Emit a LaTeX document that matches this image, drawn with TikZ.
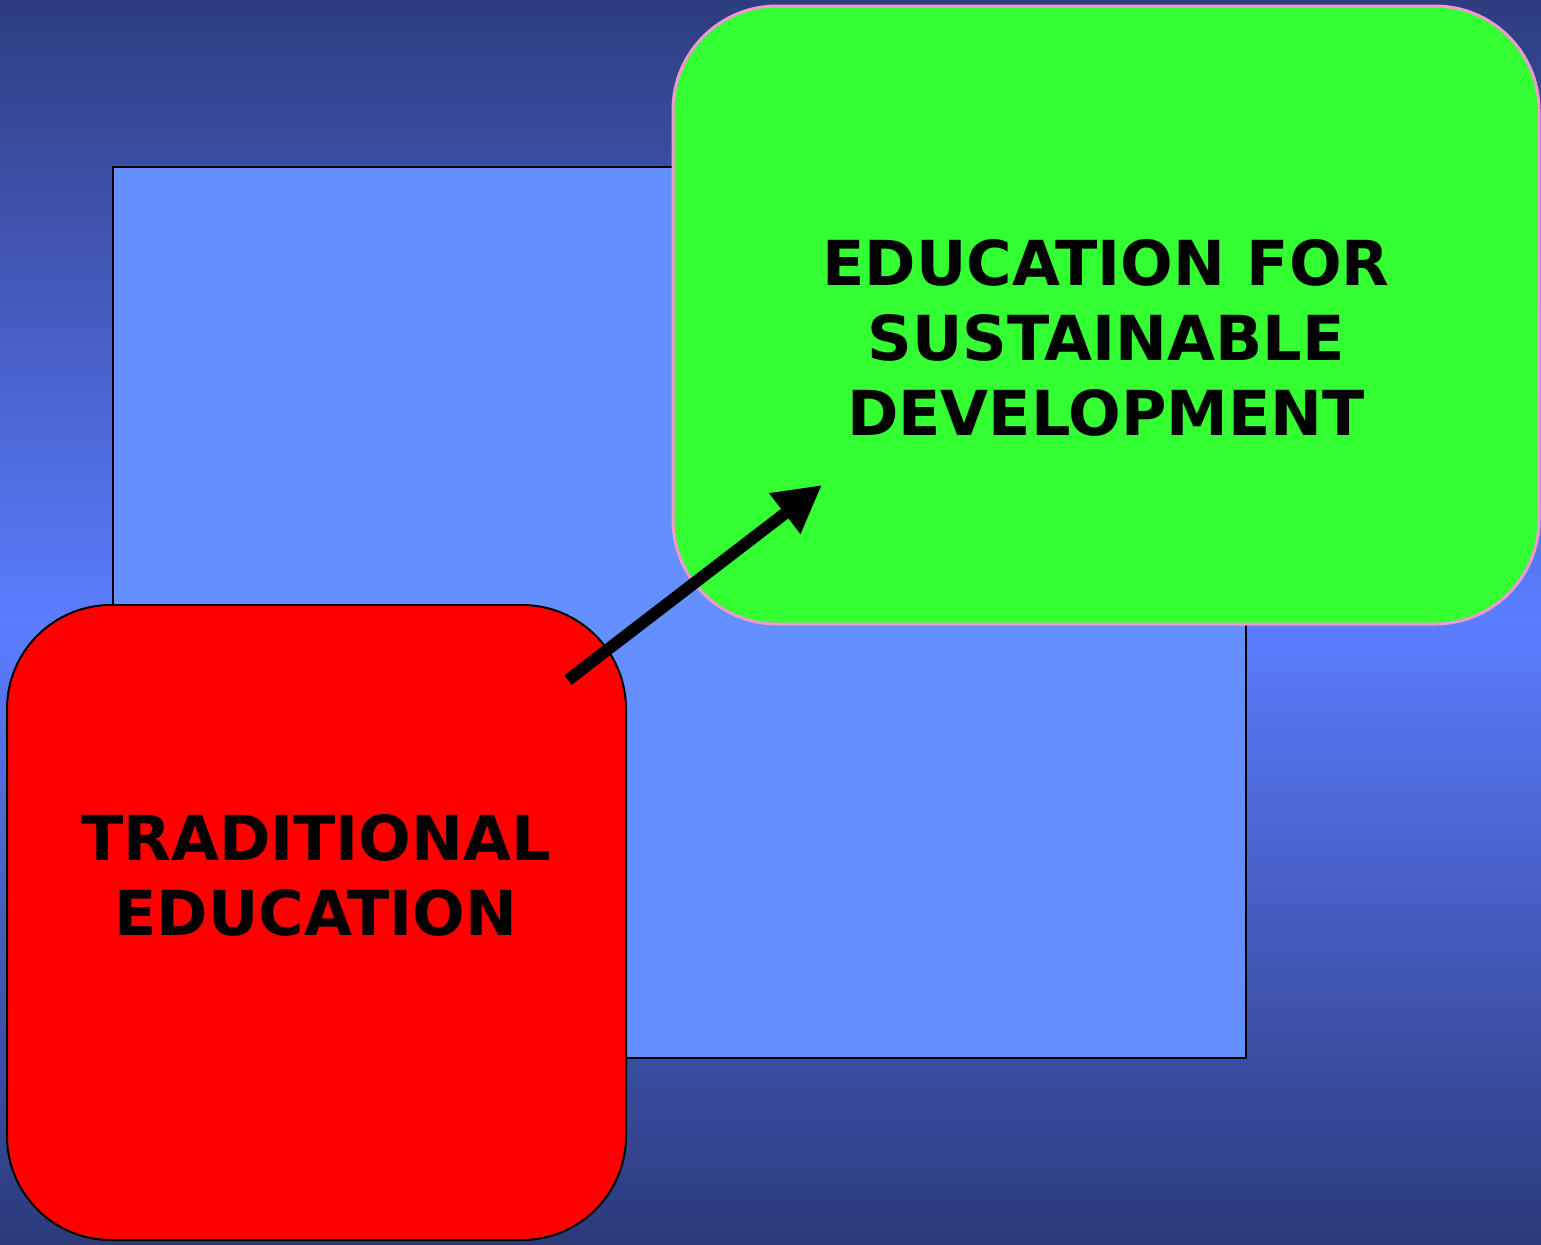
\documentclass[tikz,border=0pt]{standalone}
\usepackage{fontspec}
\setmainfont{DejaVu Sans}
\usetikzlibrary{arrows.meta}

\definecolor{bgdark}{HTML}{2E3D80}
\definecolor{bglight}{HTML}{5B7DFF}
\definecolor{panelblue}{HTML}{6490FF}
\definecolor{esdgreen}{HTML}{33FF33}
\definecolor{esdpink}{HTML}{F099CC}

\tikzset{
  box/.style={rounded corners=52pt, inner sep=0pt, line width=1pt},
  caption/.style={font=\bfseries\fontsize{31}{37.5}\selectfont, align=center},
}

\begin{document}
\begin{tikzpicture}[x=0.5pt,y=-0.5pt]
  % background
  \shade[top color=bgdark, bottom color=bgdark!95!black, middle color=bglight]
    (0,0) rectangle (1541,1244);

  \node[draw, fill=panelblue, line width=0.8pt, minimum width=566.5pt, minimum height=445.5pt] (back) at (679.5,612.5) {};

  \node[box, draw=black, fill=red, minimum width=309.5pt, minimum height=317.5pt] (trad) at (316.5,922.5) {};
  \node[box, draw=esdpink, line width=1.5pt, fill=esdgreen, minimum width=433pt, minimum height=309pt] (esd) at (1106,315) {};

  \node[caption] (tradtxt) at (316,875) {TRADITIONAL\\EDUCATION};
  \node[caption] (esdtxt) at (1106,338) {EDUCATION FOR\\SUSTAINABLE\\DEVELOPMENT};

  \coordinate (tail) at (568,680);
  \coordinate (head) at (822,485);
  \draw[line width=6pt, -{Triangle[length=23.5pt,width=24pt]}] (tail) -- (head);
\end{tikzpicture}
\end{document}
